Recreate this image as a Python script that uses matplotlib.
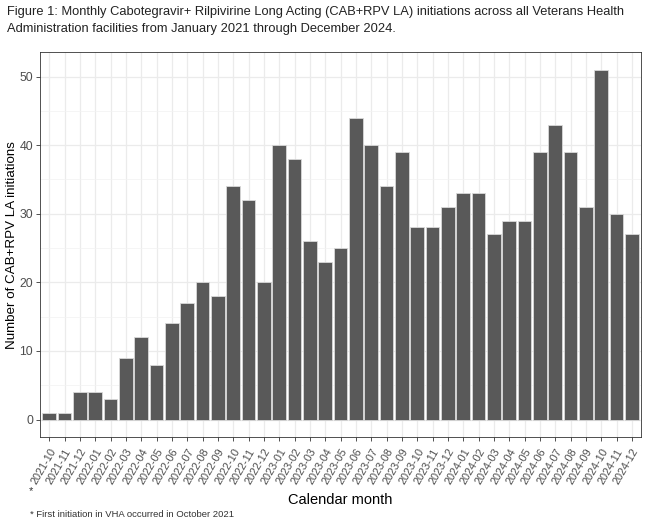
import matplotlib
matplotlib.use("Agg")
import matplotlib.pyplot as plt
import numpy as np

months = ["2021-10", "2021-11", "2021-12",
          "2022-01", "2022-02", "2022-03", "2022-04", "2022-05", "2022-06",
          "2022-07", "2022-08", "2022-09", "2022-10", "2022-11", "2022-12",
          "2023-01", "2023-02", "2023-03", "2023-04", "2023-05", "2023-06",
          "2023-07", "2023-08", "2023-09", "2023-10", "2023-11", "2023-12",
          "2024-01", "2024-02", "2024-03", "2024-04", "2024-05", "2024-06",
          "2024-07", "2024-08", "2024-09", "2024-10", "2024-11", "2024-12"]
initiations = [1, 1, 4,
               4, 3, 9, 12, 8, 14, 17, 20, 18, 34, 32, 20,
               40, 38, 26, 23, 25, 44, 40, 34, 39, 28, 28, 31,
               33, 33, 27, 29, 29, 39, 43, 39, 31, 51, 30, 27]
yticks = [0, 10, 20, 30, 40, 50]

plt.rcParams['font.family'] = ['Liberation Sans', 'DejaVu Sans']

fig = plt.figure(figsize=(6.47, 5.2), dpi=100)
ax = fig.add_axes([0.0618, 0.1596, 0.929, 0.740])

x = np.arange(len(months))
ax.bar(x, initiations, width=0.9, color='#595959', edgecolor='#d9d9d9', linewidth=0.6, zorder=3)

n = len(months)
ax.set_xlim(-0.6, n - 1 + 0.6)
ymax = max(initiations)
ax.set_ylim(-0.05 * ymax, ymax * 1.05)

ax.set_xticks(x)
ax.set_xticklabels(months, rotation=60, ha='right', rotation_mode='anchor',
                   fontsize=7.8, color='#4d4d4d')
ax.set_yticks(yticks)
ax.set_yticklabels([str(v) for v in yticks], fontsize=8.8, color='#4d4d4d')
ax.set_yticks([5, 15, 25, 35, 45], minor=True)
ax.tick_params(axis='both', which='major', length=3, color='#333333', width=0.6)
ax.tick_params(axis='y', which='minor', length=0)
ax.tick_params(axis='x', pad=4)
ax.tick_params(axis='y', pad=2)

ax.grid(True, which='major', color='#ebebeb', linewidth=0.9, zorder=0)
ax.grid(True, which='minor', axis='y', color='#f2f2f2', linewidth=0.5, zorder=0)
ax.set_axisbelow(True)
for s in ax.spines.values():
    s.set_color('#333333')
    s.set_linewidth(0.6)

ax.set_ylabel("Number of CAB+RPV LA initiations", fontsize=9.6, color='black')
ax.yaxis.set_label_coords(-0.036, 0.5)
ax.set_xlabel("Calendar month", fontsize=10.5, color='black')
ax.xaxis.set_label_coords(0.5, -0.145)

fig.text(0.011, 0.988, "Figure 1: Monthly Cabotegravir+ Rilpivirine Long Acting (CAB+RPV LA) initiations across all Veterans Health\nAdministration facilities from January 2021 through December 2024.",
         fontsize=9.3, va='top', ha='left', color='#222222', linespacing=1.5)
fig.text(0.044, 0.055, "*", fontsize=8, va='center', ha='left', color='#333333')
fig.text(0.046, 0.01, "* First initiation in VHA occurred in October 2021", fontsize=6.8,
         va='center', ha='left', color='#333333')

fig.savefig("out.png", dpi=100)
